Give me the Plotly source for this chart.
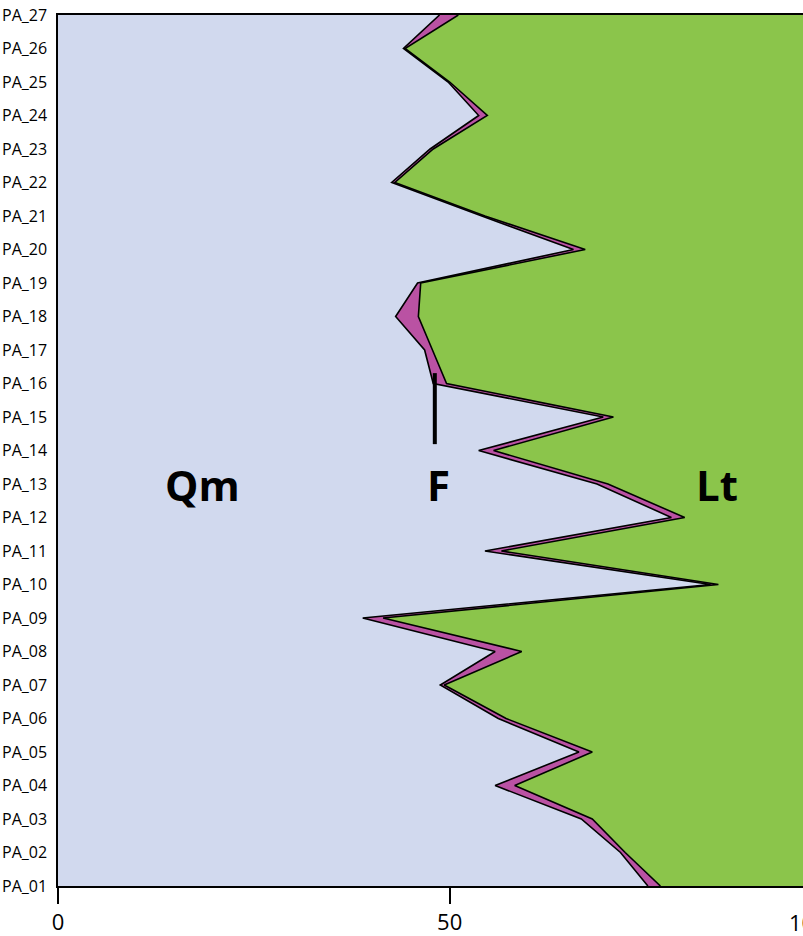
import plotly.graph_objects as go

categories = [f"PA_{i:02d}" for i in range(1, 28)]
qm = [75.3, 71.8, 66.8, 55.8, 66.5, 56.2, 48.8, 55.8, 38.9, 83.3,
      54.5, 78.3, 68.8, 53.7, 69.6, 47.9, 46.8, 43.1, 45.9, 65.8,
      54.1, 42.6, 47.5, 53.7, 49.8, 44.1, 48.7]
f = [1.6, 0.6, 1.4, 2.5, 1.7, 1.0, 0.5, 3.4, 2.6, 1.0,
     2.1, 1.7, 1.4, 1.9, 1.3, 1.7, 1.0, 2.9, 0.4, 1.5,
     0.4, 0.4, 0.4, 1.1, 0.2, 0.2, 2.4]
lt = [round(100 - a - b, 2) for a, b in zip(qm, f)]

series = [("Qm", qm, "#D1D9EE"), ("F", f, "#BA52A3"), ("Lt", lt, "#8BC54B")]

XMAX = 95.1

fig = go.Figure()
for name, vals, col in series:
    fig.add_trace(go.Scatter(
        x=vals, y=categories, name=name, orientation="h", stackgroup="one",
        mode="lines", line=dict(color="black", width=1.6), fillcolor=col,
        hoverinfo="skip", showlegend=False))

font = "Open Sans"
for txt, xv in [("Qm", 18.4), ("F", 48.6), ("Lt", 84.1)]:
    fig.add_annotation(x=xv, y="PA_13", text=f"<b>{txt}</b>", showarrow=False,
                       font=dict(family=font, size=42, color="black"),
                       xanchor="center", yanchor="middle")

fig.add_shape(type="line", xref="x", yref="y", x0=48.1, x1=48.1, y0=13.19, y1=15.31,
              line=dict(color="black", width=4))

# partially visible "100" tick label at right edge
fig.add_annotation(x=0.9785, y=0, xref="paper", yref="paper", yshift=-36, text="100",
                   showarrow=False, font=dict(family=font, size=22, color="black"),
                   xanchor="left", yanchor="middle")

fig.update_layout(
    width=803, height=936,
    margin=dict(l=58, r=0, t=15, b=50),
    paper_bgcolor="white", plot_bgcolor="white",
    font=dict(family=font, color="black"),
    xaxis=dict(range=[0, XMAX], tickvals=[0, 50, 100], ticks="outside", ticklen=16,
               tickwidth=1.5, tickcolor="black", showline=True, linecolor="black",
               linewidth=1.5, mirror=True, showgrid=False, zeroline=False,
               tickfont=dict(size=22, family=font)),
    yaxis=dict(type="category", categoryorder="array", categoryarray=categories,
               range=[0, 26], showline=True, linecolor="black", linewidth=1.5,
               ticks="outside", ticklen=6, tickcolor="rgba(0,0,0,0)",
               showgrid=False, zeroline=False, tickfont=dict(size=16, family=font)),
)

fig.write_html("out.html", config={"displayModeBar": False},
               post_script="document.body.style.margin='0';document.body.style.overflow='hidden';")
